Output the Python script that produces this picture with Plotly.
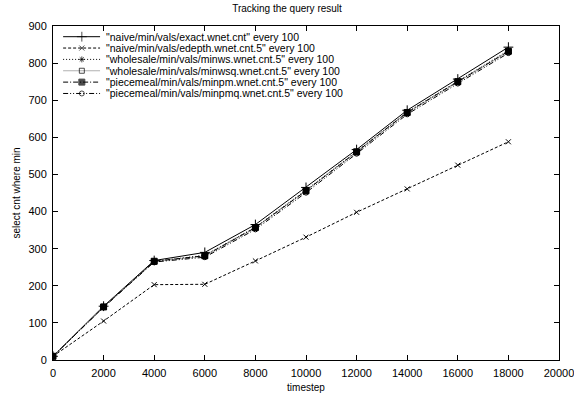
import plotly.graph_objects as go

timestep = [0, 2000, 4000, 6000, 8000, 10000, 12000, 14000, 16000, 18000]
exact = [10, 145, 268, 290, 365, 465, 567, 673, 757, 843]
edepth = [10, 105, 203, 204, 267, 331, 398, 461, 525, 588]
minws = [10, 143, 266, 282, 358, 458, 562, 668, 751, 834]
minwsq = [10, 143, 265, 280, 356, 456, 560, 666, 749, 831]
minpm = [10, 143, 266, 281, 357, 456, 561, 667, 750, 832]
minpmq = [10, 142, 264, 277, 352, 451, 556, 662, 745, 827]

names = [
    '"naive/min/vals/exact.wnet.cnt" every 100',
    '"naive/min/vals/edepth.wnet.cnt.5" every 100',
    '"wholesale/min/vals/minws.wnet.cnt.5" every 100',
    '"wholesale/min/vals/minwsq.wnet.cnt.5" every 100',
    '"piecemeal/min/vals/minpm.wnet.cnt.5" every 100',
    '"piecemeal/min/vals/minpmq.wnet.cnt.5" every 100',
]
series = [exact, edepth, minws, minwsq, minpm, minpmq]
styles = [
    dict(color="black", dash="solid", symbol="cross-thin-open", msize=7),
    dict(color="black", dash="3px,2px", symbol="x-thin-open", msize=5),
    dict(color="black", dash="1px,2px", symbol="asterisk-open", msize=5),
    dict(color="#b0b0b0", dash="solid", symbol="square-open", msize=5),
    dict(color="black", dash="5px,2px,1px,2px", symbol="square", msize=6),
    dict(color="black", dash="5px,2px,1px,2px,1px,2px", symbol="circle-open", msize=5),
]

fig = go.Figure()
for name, ys, st in zip(names, series, styles):
    fig.add_trace(go.Scatter(
        x=timestep, y=ys, name=name, mode="lines+markers", showlegend=False,
        line=dict(color=st["color"], dash=st["dash"], width=1),
        marker=dict(symbol=st["symbol"], size=st["msize"], color="black",
                    line=dict(color="black", width=1)),
    ))

# manual compact legend (gnuplot style) on an overlay axis in [0,1] units
leg_x0, leg_x1, leg_xm, leg_tx = 0.02, 0.093, 0.057, 0.103
leg_y0, leg_dy = 0.968, 0.034
annotations = []
for i, (name, st) in enumerate(zip(names, styles)):
    yy = leg_y0 - i * leg_dy
    fig.add_trace(go.Scatter(
        x=[leg_x0, leg_xm, leg_x1], y=[yy, yy, yy], xaxis="x2", yaxis="y2",
        mode="lines+markers", showlegend=False, hoverinfo="skip",
        line=dict(color=st["color"], dash=st["dash"], width=1),
        marker=dict(symbol=st["symbol"], size=[0, st["msize"], 0], color="black",
                    line=dict(color="black", width=1)),
    ))
    annotations.append(dict(x=leg_tx, y=yy, xref="x2", yref="y2", text=name,
                            showarrow=False, xanchor="left", yanchor="middle",
                            borderpad=0,
                            font=dict(size=10.5, color="black")))

axis_common = dict(
    showline=True, linecolor="black", linewidth=1, mirror="ticks",
    ticks="inside", ticklen=5, tickcolor="black", showgrid=False,
    zeroline=False, tickfont=dict(size=11, color="black"), tickformat="d",
    ticklabeloverflow="allow", automargin=False,
)
fig.update_layout(
    width=574, height=398,
    margin=dict(l=53, r=15, t=26, b=38),
    paper_bgcolor="white", plot_bgcolor="white",
    font=dict(family="Liberation Sans, Arial, sans-serif", size=11, color="black"),
    title=dict(text="Tracking the query result", x=0.5, xanchor="center",
               y=1, yanchor="top", pad=dict(t=5), font=dict(size=10)),
    xaxis=dict(range=[0, 20000], dtick=2000, ticklabelstandoff=3,
               title=dict(text="timestep", standoff=5, font=dict(size=10)),
               **axis_common),
    yaxis=dict(range=[0, 900], dtick=100, ticklabelstandoff=3,
               title=dict(text="select cnt where min", standoff=5, font=dict(size=10)),
               **axis_common),
    xaxis2=dict(range=[0, 1], overlaying="x", visible=False, fixedrange=True),
    yaxis2=dict(range=[0, 1], overlaying="y", visible=False, fixedrange=True),
    annotations=annotations,
    showlegend=False,
)
fig.write_html("out.html", config={"displayModeBar": False},
               post_script="document.body.style.margin='0';")
